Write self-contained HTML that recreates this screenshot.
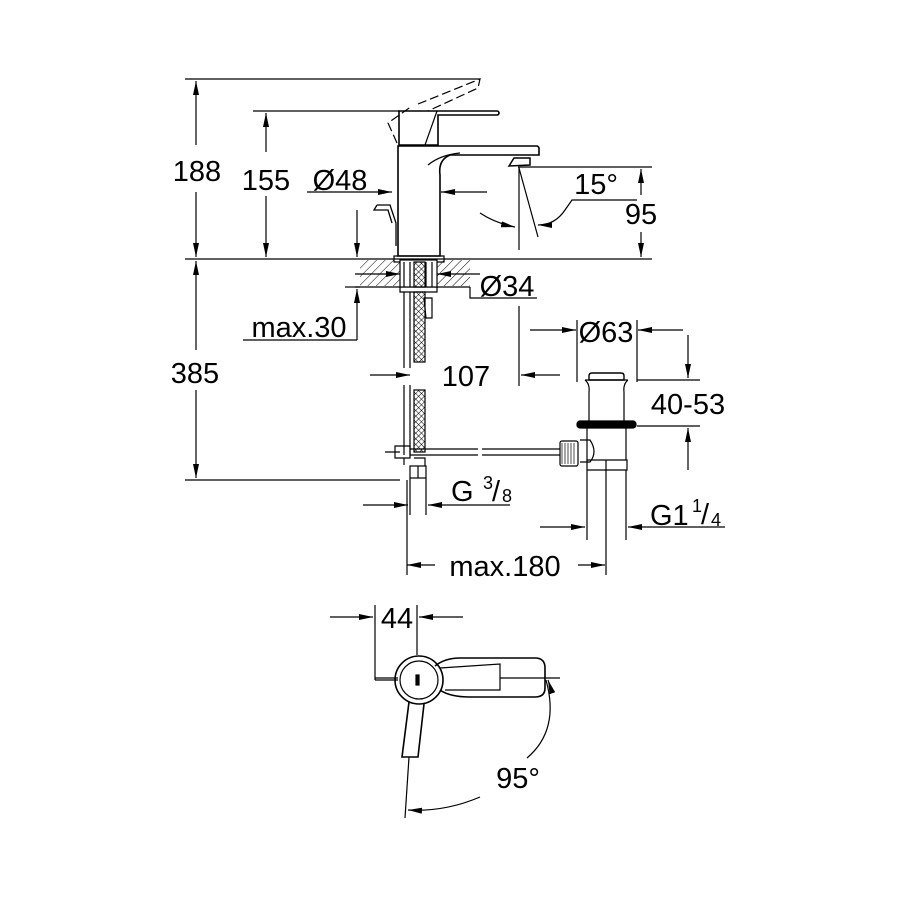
<!DOCTYPE html>
<html><head><meta charset="utf-8"><style>
html,body{margin:0;padding:0;background:#fff}
svg{display:block}
text{font-family:"Liberation Sans",sans-serif;fill:#000}
</style></head><body>
<svg width="900" height="900" viewBox="0 0 900 900" xmlns="http://www.w3.org/2000/svg">
<defs>
<marker id="a" viewBox="0 0 14 6" refX="14" refY="3" markerWidth="14" markerHeight="6" orient="auto-start-reverse" markerUnits="userSpaceOnUse"><path d="M0,0L14,3L0,6z" fill="#000"/></marker>
<pattern id="h" width="6" height="6" patternUnits="userSpaceOnUse" patternTransform="rotate(45)"><line x1="0" y1="0" x2="0" y2="6" stroke="#000" stroke-width="1"/></pattern>
<pattern id="x" width="4" height="4" patternUnits="userSpaceOnUse" patternTransform="rotate(45)"><path d="M0,0H4M0,0V4" stroke="#000" stroke-width="1"/></pattern>
</defs>
<g stroke="#000" stroke-width="1.2" fill="none">
<!-- 188 -->
<line x1="185" y1="79" x2="480" y2="79"/>
<line x1="196" y1="81" x2="196" y2="145" marker-start="url(#a)"/>
<line x1="196" y1="192" x2="196" y2="257" marker-end="url(#a)"/>
<line x1="185" y1="259" x2="652" y2="259"/>
<!-- 155 -->
<line x1="253" y1="111" x2="400" y2="111"/>
<line x1="266" y1="113" x2="266" y2="152" marker-start="url(#a)"/>
<line x1="266" y1="196" x2="266" y2="257" marker-end="url(#a)"/>
<!-- 385 -->
<line x1="196" y1="261" x2="196" y2="350" marker-start="url(#a)"/>
<line x1="196" y1="390" x2="196" y2="478" marker-end="url(#a)"/>
<line x1="185" y1="480" x2="400" y2="480"/>
<!-- Ø48 -->
<line x1="307" y1="192" x2="392" y2="192" marker-end="url(#a)"/>
<line x1="487" y1="192" x2="441" y2="192" marker-end="url(#a)"/>
<!-- faucet -->
<path d="M398,256 V146 H537 a3,3 0 0 1 2,3 V155 H450 Q438,160 440,175 V256 Z" stroke-width="1.6"/>
<path d="M428,165 Q440,155 460,153"/>
<path d="M399,145 V111 H497 a2,2 0 0 1 0,4 H438 V145 Z" stroke-width="1.6"/>
<path d="M437,111 L425,145" />
<path d="M397,143 L388,123 L412,106 M418,104 L480,79 L478,88 L428,111" stroke-dasharray="9,4"/>
<path d="M509,166 L514,158 H530 L530,165 Z" stroke-width="1.5"/>
<path d="M377,205 H390 L396,223 V246 M377,205 L374,210 H388 L392,223" stroke-width="1.3"/>
<path d="M394,256 H444 V262 H394 Z"/>
<!-- 15° / 95 -->
<line x1="518" y1="167" x2="652" y2="167"/>
<line x1="519" y1="167" x2="519" y2="250"/>
<line x1="519" y1="168" x2="538" y2="237"/>
<path d="M480,213 Q495,223 515,227" marker-end="url(#a)"/>
<path d="M637,200 H572 L565,210 Q555,225 538,225" marker-end="url(#a)"/>
<line x1="641" y1="169" x2="641" y2="195" marker-start="url(#a)"/>
<line x1="641" y1="232" x2="641" y2="257" marker-end="url(#a)"/>
<!-- counter plate hatching -->
<rect x="360" y="260" width="40" height="26" fill="url(#h)" stroke="none"/>
<rect x="437" y="260" width="33" height="26" fill="url(#h)" stroke="none"/>
<line x1="355" y1="287" x2="470" y2="287"/>
<rect x="400" y="260" width="37" height="27" fill="#fff"/>
<path d="M400,287 V292 H437 V287"/>
<path d="M404,262 V287 M410,262 V287 M426,262 V287 M432,262 V287"/>
<rect x="414" y="262" width="11" height="25" fill="url(#x)"/>
<!-- Ø34 -->
<line x1="355" y1="274" x2="400" y2="274" marker-end="url(#a)"/>
<line x1="480" y1="274" x2="437" y2="274" marker-end="url(#a)"/>
<path d="M470,287 V298 H537"/>
<!-- max.30 -->
<line x1="357" y1="210" x2="357" y2="257" marker-end="url(#a)"/>
<line x1="357" y1="340" x2="357" y2="289" marker-end="url(#a)"/>
<path d="M243,340 H357"/>
<line x1="345" y1="287" x2="360" y2="287"/>
<!-- hoses -->
<path d="M404,292 V368 M410,292 V368 M404,385 V455 M410,385 V455"/>
<rect x="414" y="292" width="11" height="70" fill="url(#x)"/>
<rect x="414" y="390" width="11" height="62" fill="url(#x)"/>
<path d="M424,298 H432 V318 H426 Z"/>
<!-- 107 -->
<line x1="370" y1="375" x2="410" y2="375" marker-end="url(#a)"/>
<line x1="560" y1="375" x2="521" y2="375" marker-end="url(#a)"/>
<line x1="519" y1="306" x2="519" y2="386"/>
<!-- pull rod and connections -->
<path d="M385,452 H400 M395,446 H410 V458 H395 Z"/>
<path d="M410,449 H478 M482,449 H560 M410,455 H478 M482,455 H560" />
<path d="M404,458 V465 M414,458 H425 V466"/>
<rect x="410" y="466" width="16" height="12"/>
<line x1="418" y1="466" x2="418" y2="478"/>
<path d="M410,478 V515 M426,478 V515"/>
<!-- G3/8 -->
<line x1="363" y1="505" x2="408" y2="505" marker-end="url(#a)"/>
<line x1="510" y1="505" x2="428" y2="505" marker-end="url(#a)"/>
<!-- waste -->
<line x1="530" y1="330" x2="576" y2="330" marker-end="url(#a)"/>
<line x1="683" y1="330" x2="638" y2="330" marker-end="url(#a)"/>
<line x1="577" y1="320" x2="577" y2="382"/>
<line x1="637" y1="320" x2="637" y2="382"/>
<path d="M589,376 Q589,373 592,373 H621 Q624,373 624,376 V380 H589 Z" stroke-width="1.4"/>
<path d="M585,380 H628 M585,380 Q590,384 589,392 V421 M628,380 Q623,384 624,392 V421"/>
<rect x="577" y="421" width="59" height="7" rx="3" fill="#000"/>
<path d="M587,428 V460 M626,428 V460"/>
<path d="M580,440 H590 Q598,452 590,462 H580"/>
<rect x="560" y="441" width="18" height="25" rx="2"/>
<path d="M562,443 V464 M565,443 V464 M568,443 V464 M571,443 V464 M574,443 V464" stroke-width="0.7"/>
<path d="M587,460 H627 V470 H587 Z M587,470 V540 M626,470 V540 M606,460 V575"/>
<!-- 40-53 -->
<line x1="637" y1="380" x2="700" y2="380"/>
<line x1="637" y1="426" x2="700" y2="426"/>
<line x1="688" y1="335" x2="688" y2="378" marker-end="url(#a)"/>
<line x1="688" y1="470" x2="688" y2="428" marker-end="url(#a)"/>
<!-- G1 1/4 -->
<line x1="540" y1="527" x2="585" y2="527" marker-end="url(#a)"/>
<line x1="725" y1="527" x2="628" y2="527" marker-end="url(#a)"/>
<!-- max.180 -->
<line x1="407" y1="480" x2="407" y2="575"/>
<line x1="407" y1="565" x2="435" y2="565" marker-start="url(#a)"/>
<line x1="578" y1="565" x2="605" y2="565" marker-end="url(#a)"/>
<!-- top view -->
<line x1="330" y1="617" x2="373" y2="617" marker-end="url(#a)"/>
<line x1="463" y1="617" x2="419" y2="617" marker-end="url(#a)"/>
<line x1="375" y1="605" x2="375" y2="680"/>
<line x1="417" y1="605" x2="417" y2="655"/>
<path d="M375,678 H398 M375,680 H398"/>
<circle cx="419" cy="680" r="24" stroke-width="1.6"/>
<circle cx="419" cy="680" r="19"/>
<path d="M435,666 Q445,658 460,658 H535 Q545,658 545,668 V688 Q545,697 535,697 H470 Q450,697 440,690" stroke-width="1.6"/>
<path d="M440,668 L500,664 V690 H445"/>
<line x1="500" y1="678" x2="560" y2="678"/>
<rect x="416" y="675" width="3" height="10" fill="#000"/>
<path d="M409,702 L402,757 H418 L424,704" stroke-width="1.6"/>
<line x1="409" y1="757" x2="405" y2="818"/>
<path d="M546,680 Q560,730 527,758"/>
<line x1="552" y1="692" x2="548" y2="680" marker-end="url(#a)"/>
<path d="M480,797 Q445,812 408,810" marker-end="url(#a)"/>
</g>
<g font-size="29">
<text x="197" y="181" text-anchor="middle">188</text>
<text x="266" y="190" text-anchor="middle">155</text>
<text x="340" y="190" text-anchor="middle">Ø48</text>
<text x="596" y="194" text-anchor="middle">15°</text>
<text x="641" y="224" text-anchor="middle">95</text>
<text x="507" y="296" text-anchor="middle">Ø34</text>
<text x="299" y="337" text-anchor="middle">max.30</text>
<text x="195" y="383" text-anchor="middle">385</text>
<text x="466" y="386" text-anchor="middle">107</text>
<text x="606" y="342" text-anchor="middle">Ø63</text>
<text x="688" y="414" text-anchor="middle">40-53</text>
<text x="451" y="501">G</text>
<text x="483" y="489" font-size="18">3</text>
<text x="492" y="501">/</text>
<text x="502" y="502" font-size="18">8</text>
<text x="650" y="525">G1</text>
<text x="692" y="512" font-size="18">1</text>
<text x="701" y="524">/</text>
<text x="711" y="526" font-size="18">4</text>
<text x="505" y="576" text-anchor="middle">max.180</text>
<text x="397" y="628" text-anchor="middle">44</text>
<text x="518" y="788" text-anchor="middle">95°</text>
</g>
</svg>
</body></html>
